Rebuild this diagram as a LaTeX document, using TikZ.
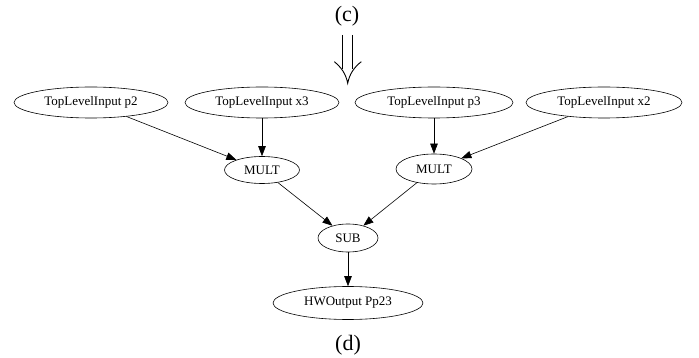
\documentclass[tikz,border=0pt]{standalone}
\usepackage{fontspec}
\setmainfont{Liberation Serif}
\usetikzlibrary{shapes.geometric,arrows.meta}
\begin{document}
\begin{tikzpicture}[x=1pt,y=-1pt,
  ell/.style={draw,ellipse,line width=0.6pt,inner sep=0pt,font=\fontsize{13}{15}\selectfont},
  edge/.style={line width=0.6pt,-{Triangle[length=10pt,width=7.5pt]}}]
\useasboundingbox (0,0) rectangle (699,358);
\node[font=\fontsize{22}{24}\selectfont] (c) at (347,16) {(c)};
\node[font=\fontsize{22}{24}\selectfont] (d) at (348,345) {(d)};
% double arrow
\draw[line width=0.9pt] (342.7,35) -- (342.7,69);
\draw[line width=0.9pt] (352.7,35) -- (352.7,69);
\draw[line width=0.9pt] (334.3,61.7) .. controls (341,67) and (346,74) .. (347.7,83.3)
  .. controls (349.4,74) and (354.4,67) .. (361.3,61.7);
\node[ell,minimum width=154pt,minimum height=31pt] (p2) at (91,102.5) {TopLevelInput p2};
\node[ell,minimum width=154pt,minimum height=31pt] (x3) at (262,102.5) {TopLevelInput x3};
\node[ell,minimum width=158pt,minimum height=31pt] (p3) at (434,102.5) {TopLevelInput p3};
\node[ell,minimum width=156pt,minimum height=31pt] (x2) at (604,102.5) {TopLevelInput x2};
\node[ell,minimum width=75pt,minimum height=27pt] (m1) at (262,170) {MULT};
\node[ell,minimum width=76pt,minimum height=30pt] (m2) at (434,169) {MULT};
\node[ell,minimum width=60pt,minimum height=28pt] (sub) at (348,238) {SUB};
\node[ell,minimum width=150pt,minimum height=33pt] (hw) at (348,303) {HWOutput Pp23};
\draw[edge] (p2) -- (m1);
\draw[edge] (x3) -- (m1);
\draw[edge] (p3) -- (m2);
\draw[edge] (x2) -- (m2);
\draw[edge] (m1) -- (sub);
\draw[edge] (m2) -- (sub);
\draw[edge] (sub) -- (hw);
\end{tikzpicture}
\end{document}
